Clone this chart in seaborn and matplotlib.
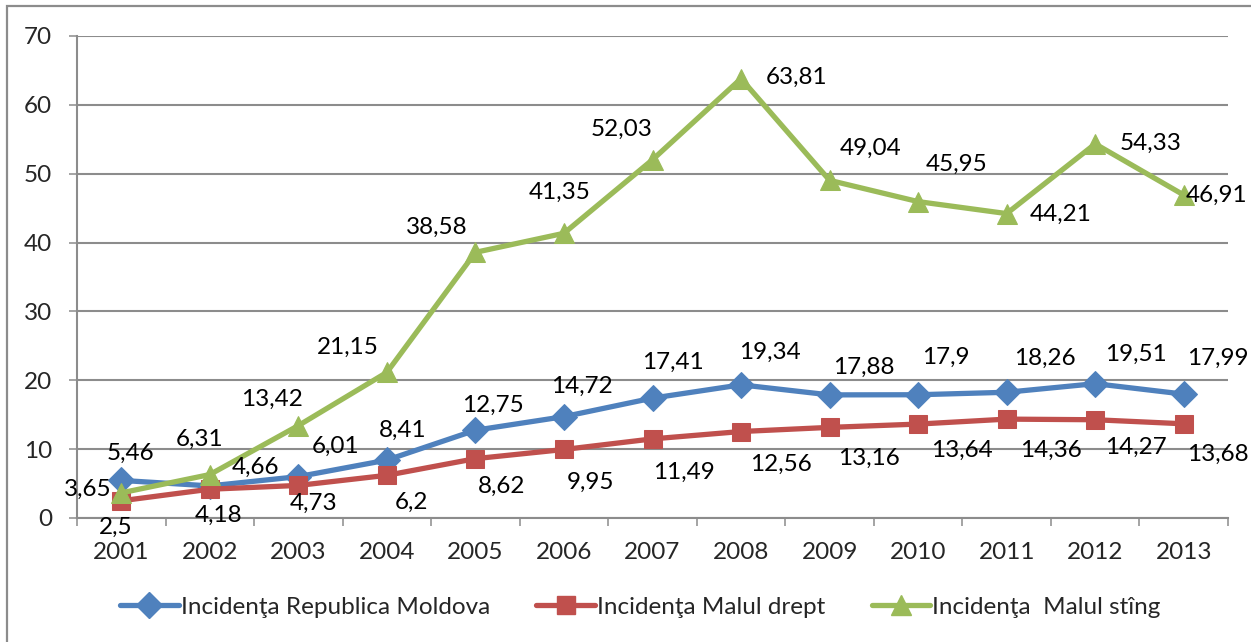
import matplotlib
matplotlib.use("Agg")
import matplotlib.pyplot as plt
import seaborn as sns
import pandas as pd
from matplotlib.patches import Rectangle
from matplotlib.lines import Line2D

years = [2001, 2002, 2003, 2004, 2005, 2006, 2007, 2008, 2009, 2010, 2011, 2012, 2013]
moldova = [5.46, 4.66, 6.01, 8.41, 12.75, 14.72, 17.41, 19.34, 17.88, 17.9, 18.26, 19.51, 17.99]
drept = [2.5, 4.18, 4.73, 6.2, 8.62, 9.95, 11.49, 12.56, 13.16, 13.64, 14.36, 14.27, 13.68]
sting = [3.65, 6.31, 13.42, 21.15, 38.58, 41.35, 52.03, 63.81, 49.04, 45.95, 44.21, 54.33, 46.91]
series_names = ["Incidenţa Republica Moldova", "Incidenţa Malul drept", "Incidenţa  Malul stîng"]
y_ticks = [0, 10, 20, 30, 40, 50, 60, 70]

# label offsets in pixels (layout only)
off_blue = [(9, 27), (46, 19), (37, 30), (16, 30), (17, 25), (18, 30), (20, 36), (29, 32), (34, 28), (28, 37), (38, 34), (41, 29), (34, 36)]
off_red = [(-6, -27), (9, -26), (15, -18), (25, -27), (26, -28), (27, -33), (31, -33), (40, -33), (39, -31), (44, -26), (44, -31), (41, -28), (34, -31)]
off_green = [(-34, 4), (-10, 35), (-26, 26), (-39, 25), (-39, 25), (-4, 41), (-31, 30), (56, 1), (41, 32), (38, 37), (54, -1), (55, 1), (33, 0)]

sns.set_theme(style="white")
FONT = ["Lato", "DejaVu Sans"]
plt.rcParams["font.family"] = FONT
FS = 17.5

colors = ["#4F81BD", "#C0504D", "#9BBB59"]
markers = ["D", "s", "^"]
msizes = [13, 13, 15]
grid_c = "#8C8C8C"

fig = plt.figure(figsize=(12.51, 6.42), dpi=100)
ax = fig.add_axes([77 / 1251, 1 - 518 / 642, 1151 / 1251, 482 / 642])

df = pd.DataFrame({"year": years * 3,
                   "value": moldova + drept + sting,
                   "series": sum([[n] * len(years) for n in series_names], [])})

for name, col, mk, ms in zip(series_names, colors, markers, msizes):
    sub = df[df["series"] == name]
    sns.lineplot(data=sub, x="year", y="value", ax=ax, color=col, marker=mk,
                 markersize=ms, markeredgecolor=col, linewidth=3.8, legend=False, zorder=3)

for vals, offs in zip([moldova, drept, sting], [off_blue, off_red, off_green]):
    for yr, v, (dx, dy) in zip(years, vals, offs):
        ax.annotate(f"{v:g}".replace(".", ","), xy=(yr, v), xytext=(dx, dy),
                    textcoords="offset pixels", ha="center", va="center",
                    fontsize=FS, color="black", zorder=5)

ax.set_xlim(years[0] - 0.5, years[-1] + 0.5)
ax.set_ylim(0, 70)
ax.set_yticks(y_ticks)
ax.set_xticks(years)
ax.set_xticklabels([str(y) for y in years])
ax.set_xticks([y - 0.5 for y in years] + [years[-1] + 0.5], minor=True)
ax.set_xlabel("")
ax.set_ylabel("")

ax.grid(axis="y", color=grid_c, linewidth=1.5, zorder=0)
ax.grid(axis="x", visible=False)
for s in ["top", "right"]:
    ax.spines[s].set_visible(False)
for s in ["left", "bottom"]:
    ax.spines[s].set_color(grid_c)
    ax.spines[s].set_linewidth(1.5)

ax.tick_params(axis="y", which="major", direction="out", length=6, width=1.1, color=grid_c,
               pad=12, labelsize=FS, left=True)
ax.tick_params(axis="x", which="major", length=0, pad=17, labelsize=FS, bottom=True)
ax.tick_params(axis="x", which="minor", direction="out", length=6, width=1.1, color=grid_c, bottom=True)

handles = [Line2D([0], [0], color=c, marker=m, markersize=ms, linewidth=3.8, markeredgecolor=c)
           for c, m, ms in zip(colors, markers, msizes)]
fig.legend(handles, series_names, loc="center", bbox_to_anchor=(0.512, 35 / 642), ncol=3,
           frameon=False, fontsize=FS, handlelength=2.4, handletextpad=0.1, columnspacing=1.9)

frame = Rectangle((7 / 1251, -0.1), 1.2, 1 - 6 / 642 + 0.1, transform=fig.transFigure,
                  fill=False, edgecolor=grid_c, linewidth=1.6)
fig.patches.append(frame)

fig.savefig("out.png", dpi=100)
